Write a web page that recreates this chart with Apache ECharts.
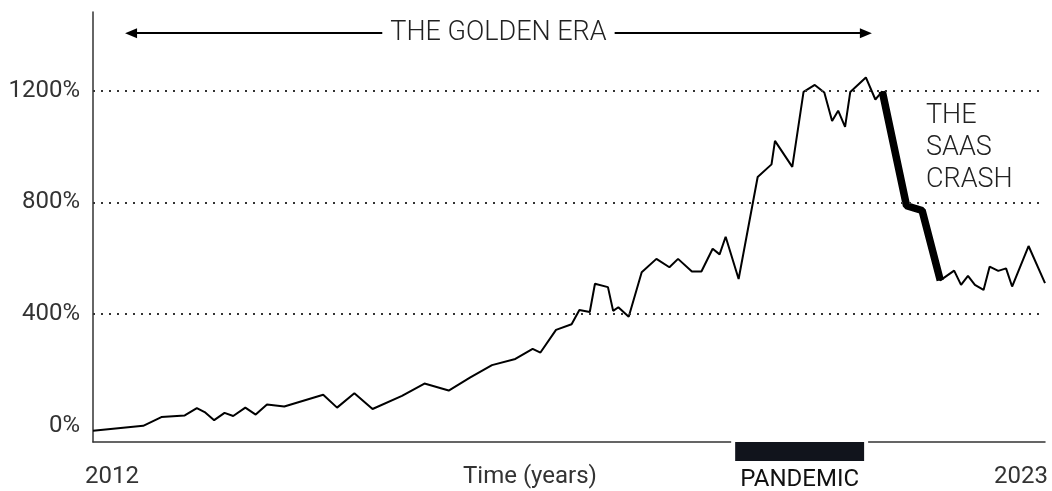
<!DOCTYPE html>
<html>
<head>
<meta charset="utf-8">
<script src="https://cdn.jsdelivr.net/npm/echarts@6/dist/echarts.min.js"></script>
<style>
  html, body { margin: 0; padding: 0; background: #fff; }
  #chart { width: 1052px; height: 491px; }
</style>
</head>
<body>
<div id="chart"></div>
<script>
// 数据
const years = [2012.00, 2012.58, 2012.79, 2013.06, 2013.20, 2013.29, 2013.40, 2013.52, 2013.62, 2013.76,
  2013.88, 2014.01, 2014.21, 2014.66, 2014.82, 2015.02, 2015.23, 2015.57, 2015.83, 2016.11,
  2016.36, 2016.61, 2016.88, 2017.08, 2017.17, 2017.35, 2017.53, 2017.62, 2017.74, 2017.80,
  2017.95, 2018.01, 2018.07, 2018.19, 2018.34, 2018.51, 2018.66, 2018.76, 2018.92, 2019.03,
  2019.16, 2019.24, 2019.31, 2019.46, 2019.68, 2019.84, 2019.88, 2020.08, 2020.21, 2020.34,
  2020.45, 2020.54, 2020.61, 2020.69, 2020.75, 2020.93, 2021.04, 2021.08, 2021.12, 2021.40,
  2021.58, 2021.79, 2021.95, 2022.03, 2022.11, 2022.19, 2022.29, 2022.36, 2022.46, 2022.55,
  2022.62, 2022.81, 2023.00]
const growth = [-17, 1, 32, 38, 64, 50, 21, 47, 36, 66,
  41, 77, 70, 112, 66, 117, 61, 108, 152, 127,
  174, 218, 240, 276, 263, 344, 364, 415, 408, 509,
  497, 412, 425, 391, 550, 598, 568, 598, 553, 553,
  634, 614, 677, 526, 891, 936, 1020, 927, 1195, 1220,
  1193, 1091, 1128, 1070, 1195, 1247, 1168, 1183, 1197, 788,
  771, 521, 556, 505, 537, 505, 487, 570, 555, 564,
  499, 644, 511]
const crashYears = [2021.12, 2021.40, 2021.58, 2021.79]
const crashValues = [1197, 788, 771, 521]

const yTicks = [0, 400, 800, 1200]
const gridValues = [400, 800, 1200]
const xTicks = [2012, 2023]
const goldenEra = [2012.44, 2020.93]
const goldenEraLevel = 1405
const pandemic = [2019.42, 2020.91]

const font = 'Roboto'
let chart = echarts.init(document.getElementById('chart'))

chart.setOption({
  animation: false,
  grid: { left: 93, right: 7, top: 12, bottom: 49 },
  xAxis: {
    type: 'value',
    min: 2012,
    max: 2023,
    axisLine: { show: true, onZero: false, lineStyle: { color: '#333', width: 1.5 } },
    axisTick: { show: false },
    splitLine: { show: false },
    axisLabel: {
      customValues: xTicks,
      formatter: v => String(v),
      color: '#333',
      fontFamily: font,
      fontSize: 24,
      margin: 23,
      padding: [0, -3, 0, -8],
      alignMinLabel: 'left',
      alignMaxLabel: 'right'
    }
  },
  yAxis: {
    type: 'value',
    min: -57,
    max: 1481,
    axisLine: { show: true, onZero: false, lineStyle: { color: '#333', width: 1.5 } },
    axisTick: { show: false },
    splitLine: { show: false },
    axisLabel: {
      customValues: yTicks,
      formatter: v => v + '%',
      color: '#333',
      fontFamily: font,
      fontSize: 24,
      margin: 13
    }
  },
  series: [
    {
      name: 'growth',
      type: 'line',
      data: years.map((y, i) => [y, growth[i]]),
      showSymbol: false,
      lineStyle: { color: '#000', width: 2 },
      z: 3,
      markLine: {
        silent: true,
        symbol: 'none',
        label: { show: false },
        lineStyle: { color: '#333', type: [2, 6], width: 2 },
        data: gridValues.map(v => ({ yAxis: v }))
      }
    },
    {
      name: 'crash',
      type: 'line',
      data: crashYears.map((y, i) => [y, crashValues[i]]),
      showSymbol: false,
      lineStyle: { color: '#000', width: 7.5 },
      z: 4,
      markLine: {
        silent: true,
        symbol: ['triangle', 'triangle'],
        symbolSize: [10, 12],
        lineStyle: { color: '#000', type: 'solid', width: 2 },
        label: {
          show: true,
          position: 'middle',
          distance: 0,
          verticalAlign: 'middle',
          formatter: 'THE GOLDEN ERA',
          color: '#222',
          fontFamily: font,
          fontWeight: 300,
          fontSize: 27,
          backgroundColor: '#fff',
          padding: [0, 8]
        },
        data: [[
          { coord: [goldenEra[0], goldenEraLevel] },
          { coord: [goldenEra[1], goldenEraLevel] }
        ]]
      }
    }
  ]
})

// 疫情区间 + 注释文字
let p0 = chart.convertToPixel({ gridIndex: 0 }, [pandemic[0], -57])
let p1 = chart.convertToPixel({ gridIndex: 0 }, [pandemic[1], -57])
chart.setOption({
  graphic: [
    {
      type: 'rect',
      shape: { x: p0[0] - 4, y: p0[1] - 3, width: p1[0] - p0[0] + 8, height: 24 },
      style: { fill: '#fff' },
      z: 10
    },
    {
      type: 'rect',
      shape: { x: p0[0], y: p0[1], width: p1[0] - p0[0], height: 19 },
      style: { fill: '#11141c' },
      z: 11
    },
    {
      type: 'text',
      x: (p0[0] + p1[0]) / 2,
      y: 480,
      style: {
        text: 'PANDEMIC', fill: '#111', fontFamily: font, fontSize: 24,
        align: 'center', verticalAlign: 'middle'
      },
      z: 11
    },
    {
      type: 'text',
      x: 530,
      y: 477,
      style: {
        text: 'Time (years)', fill: '#333', fontFamily: font, fontSize: 24,
        align: 'center', verticalAlign: 'middle'
      }
    },
    {
      type: 'text',
      x: 926,
      y: 100,
      style: {
        text: 'THE\nSAAS\nCRASH', fill: '#222', fontFamily: font, fontWeight: 300,
        fontSize: 27, lineHeight: 32, align: 'left', verticalAlign: 'top'
      }
    }
  ]
})
</script>
</body>
</html>
